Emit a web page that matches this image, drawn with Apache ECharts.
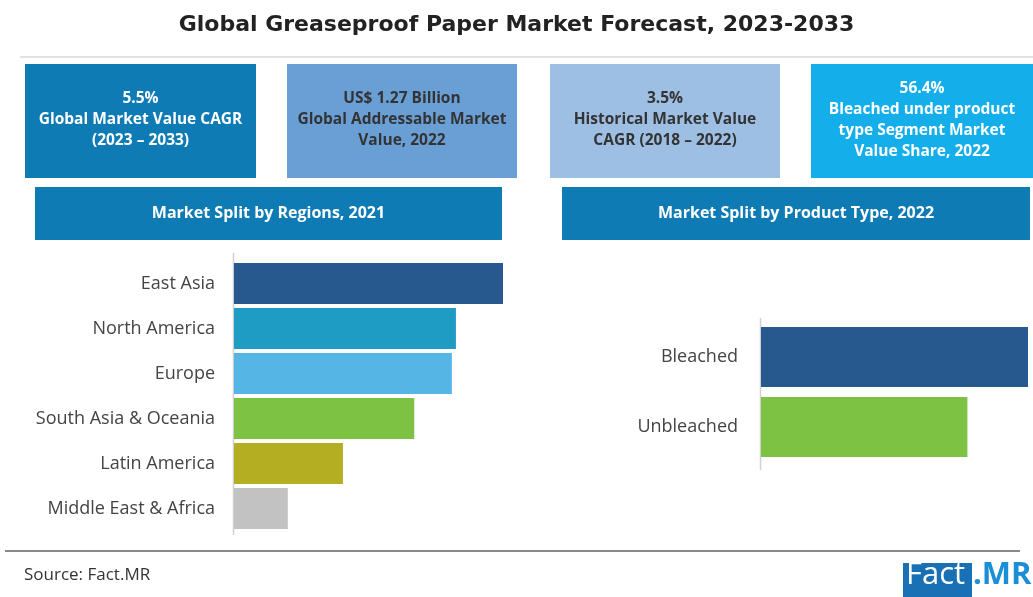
<!DOCTYPE html>
<html>
<head>
<meta charset="utf-8">
<script src="https://cdn.jsdelivr.net/npm/echarts@6/dist/echarts.min.js"></script>
<style>
  html, body { margin: 0; padding: 0; background: #fff; }
  #chart { width: 1033px; height: 597px; }
</style>
</head>
<body>
<div id="chart"></div>
<script>
// regions, 2021 (relative share)
var regions = ['East Asia', 'North America', 'Europe', 'South Asia & Oceania', 'Latin America', 'Middle East & Africa'];
var regionValues = [100, 82.5, 81, 67, 40.5, 20];
var regionColors = ['#27598f', '#1f9cc4', '#55b6e6', '#7dc242', '#b3ae22', '#c2c2c2'];

// product type, 2022 (% share)
var products = ['Bleached', 'Unbleached'];
var productValues = [56.4, 43.6];
var productColors = ['#27598f', '#7dc242'];

// stat boxes
var boxes = [
  { x: 25, w: 231, color: '#0e7bb5', text: '5.5%\nGlobal Market Value CAGR\n(2023 – 2033)', fg: '#fff' },
  { x: 287, w: 230, color: '#6a9fd5', text: 'US$ 1.27 Billion\nGlobal Addressable Market\nValue, 2022', fg: '#333' },
  { x: 550, w: 230, color: '#9dbfe3', text: '3.5%\nHistorical Market Value\nCAGR (2018 – 2022)', fg: '#333' },
  { x: 811, w: 222, color: '#14aeea', text: '56.4%\nBleached under product\ntype Segment Market\nValue Share, 2022', fg: '#fff' }
];

var chart = echarts.init(document.getElementById('chart'));

var graphics = [
  { type: 'line', shape: { x1: 20, y1: 57, x2: 1033, y2: 57 }, style: { stroke: '#e2e2e2', lineWidth: 2 } },
  { type: 'line', shape: { x1: 5, y1: 551, x2: 1020, y2: 551 }, style: { stroke: '#8a8a8a', lineWidth: 2 } },
  { type: 'line', shape: { x1: 233.5, y1: 253, x2: 233.5, y2: 535 }, style: { stroke: '#d0d0d0', lineWidth: 1.5 } },
  { type: 'line', shape: { x1: 760.5, y1: 318, x2: 760.5, y2: 470 }, style: { stroke: '#d0d0d0', lineWidth: 1.5 } },
  { type: 'text', left: 24, top: 567, style: { text: 'Source: Fact.MR', font: '17px "Open Sans", sans-serif', fill: '#333' } },
  { type: 'rect', shape: { x: 903, y: 563, width: 69, height: 34 }, style: { fill: '#1a70b4' } },
  { type: 'text', left: 906, top: 560, style: { text: 'Fact', font: '31px "Open Sans", sans-serif', fill: '#fff' } },
  { type: 'text', left: 973, top: 560, style: { text: '.MR', font: 'bold 31px "Open Sans", sans-serif', fill: '#1a8fd6' } }
];

boxes.forEach(function (b) {
  graphics.push({ type: 'rect', shape: { x: b.x, y: 64, width: b.w, height: 114 }, style: { fill: b.color } });
  graphics.push({
    type: 'text', x: b.x + b.w / 2, y: 120,
    style: { text: b.text, font: 'bold 15.5px "Open Sans", sans-serif', fill: b.fg, align: 'center', verticalAlign: 'middle', lineHeight: 21 }
  });
});

[[35, 467, 'Market Split by Regions, 2021'], [562, 468, 'Market Split by Product Type, 2022']].forEach(function (h) {
  graphics.push({ type: 'rect', shape: { x: h[0], y: 187, width: h[1], height: 53 }, style: { fill: '#0e7bb5' } });
  graphics.push({
    type: 'text', x: h[0] + h[1] / 2, y: 213,
    style: { text: h[2], font: 'bold 16px "Open Sans", sans-serif', fill: '#fff', align: 'center', verticalAlign: 'middle' }
  });
});

chart.setOption({
  animation: false,
  title: {
    text: 'Global Greaseproof Paper Market Forecast, 2023-2033',
    left: 'center',
    top: 9,
    textStyle: { fontFamily: 'DejaVu Sans', fontWeight: 'bold', fontSize: 22, color: '#222' }
  },
  graphic: graphics,
  grid: [
    { left: 234, top: 261, width: 269, height: 270 },
    { left: 761, top: 322, width: 267, height: 140 }
  ],
  xAxis: [
    { gridIndex: 0, type: 'value', min: 0, max: 100, show: false },
    { gridIndex: 1, type: 'value', min: 0, max: 56.4, show: false }
  ],
  yAxis: [
    {
      gridIndex: 0, type: 'category', data: regions, inverse: true,
      axisLine: { show: false }, axisTick: { show: false },
      axisLabel: { margin: 19, fontSize: 18, color: '#444', fontFamily: 'Open Sans' }
    },
    {
      gridIndex: 1, type: 'category', data: products, inverse: true,
      axisLine: { show: false }, axisTick: { show: false },
      axisLabel: { margin: 23, fontSize: 18, color: '#444', fontFamily: 'Open Sans' }
    }
  ],
  series: [
    {
      type: 'bar', xAxisIndex: 0, yAxisIndex: 0, barWidth: 41,
      data: regionValues.map(function (v, i) { return { value: v, itemStyle: { color: regionColors[i] } }; })
    },
    {
      type: 'bar', xAxisIndex: 1, yAxisIndex: 1, barWidth: 60,
      data: productValues.map(function (v, i) { return { value: v, itemStyle: { color: productColors[i] } }; })
    }
  ]
});
</script>
</body>
</html>
